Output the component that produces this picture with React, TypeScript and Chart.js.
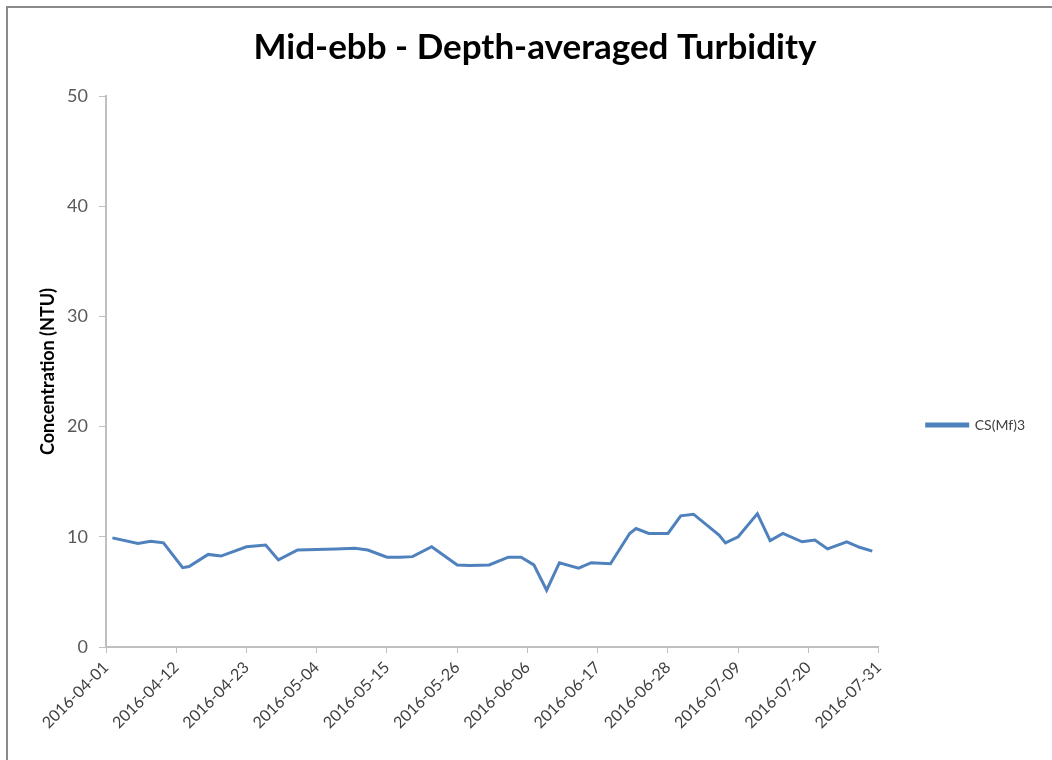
import React, { useEffect, useRef } from "react";
import { Chart, registerables } from "chart.js";

Chart.register(...registerables);

const START_DATE = "2016-04-01";

const SAMPLE_DATES = [
  "2016-04-02", "2016-04-06", "2016-04-08", "2016-04-10", "2016-04-13", "2016-04-14",
  "2016-04-17", "2016-04-19", "2016-04-23", "2016-04-26", "2016-04-28", "2016-05-01",
  "2016-05-04", "2016-05-07", "2016-05-10", "2016-05-12", "2016-05-15", "2016-05-17",
  "2016-05-19", "2016-05-22", "2016-05-26", "2016-05-28", "2016-05-31", "2016-06-03",
  "2016-06-05", "2016-06-07", "2016-06-09", "2016-06-11", "2016-06-14", "2016-06-16",
  "2016-06-19", "2016-06-22", "2016-06-23", "2016-06-25", "2016-06-28", "2016-06-30",
  "2016-07-02", "2016-07-06", "2016-07-07", "2016-07-09", "2016-07-12", "2016-07-14",
  "2016-07-16", "2016-07-19", "2016-07-21", "2016-07-23", "2016-07-26", "2016-07-28",
  "2016-07-30",
];

const TURBIDITY = [
  9.9, 9.4, 9.6, 9.45, 7.2, 7.3,
  8.4, 8.25, 9.1, 9.25, 7.9, 8.8,
  8.85, 8.9, 8.95, 8.8, 8.15, 8.15,
  8.2, 9.1, 7.45, 7.4, 7.45, 8.15,
  8.15, 7.45, 5.15, 7.65, 7.15, 7.65,
  7.55, 10.3, 10.75, 10.3, 10.3, 11.9,
  12.05, 10.15, 9.45, 10.0, 12.1, 9.65,
  10.3, 9.55, 9.7, 8.9, 9.55, 9.05,
  8.7,
];

const X_TICK_LABELS = [
  "2016-04-01", "2016-04-12", "2016-04-23", "2016-05-04", "2016-05-15", "2016-05-26",
  "2016-06-06", "2016-06-17", "2016-06-28", "2016-07-09", "2016-07-20", "2016-07-31",
];

const Y_TICKS = [0, 10, 20, 30, 40, 50];

const SERIES_NAME = "CS(Mf)3";
const TITLE = "Mid-ebb - Depth-averaged Turbidity";
const Y_TITLE = "Concentration (NTU)";

const dayOffset = (d: string) =>
  Math.round((Date.parse(d + "T00:00:00Z") - Date.parse(START_DATE + "T00:00:00Z")) / 86400000);

const FONT = "Lato, 'Open Sans', sans-serif";

const legendShift = {
  id: "legendShift",
  afterLayout(chart: any) {
    if (chart.legend) {
      chart.legend.top += 45;
      chart.legend.bottom += 45;
      chart.legend.left -= 4;
      chart.legend.right -= 4;
    }
  },
};

export default function App() {
  const ref = useRef<HTMLCanvasElement | null>(null);

  useEffect(() => {
    document.body.style.margin = "0";
    const canvas = ref.current;
    if (!canvas) return;
    const tickDays = X_TICK_LABELS.map(dayOffset);
    const labelByDay: Record<number, string> = {};
    X_TICK_LABELS.forEach((l, i) => (labelByDay[tickDays[i]] = l));
    const points = SAMPLE_DATES.map((d, i) => ({ x: dayOffset(d), y: TURBIDITY[i] }));

    const chart = new Chart(canvas, {
      type: "line",
      data: {
        datasets: [
          {
            label: SERIES_NAME,
            data: points,
            borderColor: "#4f81bd",
            backgroundColor: "#4f81bd",
            borderWidth: 3,
            pointRadius: 0,
            tension: 0,
          },
        ],
      },
      plugins: [legendShift],
      options: {
        responsive: false,
        animation: false,
        layout: { padding: { left: 31, right: 13, top: 0, bottom: 0 } },
        plugins: {
          title: {
            display: true,
            text: TITLE,
            color: "#000000",
            font: { family: FONT, size: 35, weight: "bold", lineHeight: 1.2 },
            padding: { top: 27, bottom: 27 },
          },
          legend: {
            display: true,
            position: "right",
            align: "center",
            labels: {
              boxWidth: 41,
              boxHeight: 2,
              padding: 52,
              color: "#404040",
              font: { family: FONT, size: 14 },
            },
          },
          tooltip: { enabled: false },
        },
        scales: {
          x: {
            type: "linear",
            min: tickDays[0],
            max: tickDays[tickDays.length - 1],
            afterBuildTicks: (scale: any) => {
              scale.ticks = tickDays.map((v) => ({ value: v }));
            },
            afterFit: (scale: any) => {
              scale.height = 113;
            },
            grid: {
              display: true,
              drawOnChartArea: false,
              drawTicks: true,
              tickLength: 6,
              color: "#bfbfbf",
            },
            border: { display: true, color: "#bfbfbf", width: 2 },
            ticks: {
              autoSkip: false,
              minRotation: 45,
              maxRotation: 45,
              padding: 5,
              color: "#404040",
              font: { family: FONT, size: 16 },
              callback: (v: any) => labelByDay[v] ?? "",
            },
          },
          y: {
            min: 0,
            max: 50,
            afterBuildTicks: (scale: any) => {
              scale.ticks = Y_TICKS.map((v) => ({ value: v }));
            },
            afterFit: (scale: any) => {
              scale.width = 75;
            },
            grid: {
              display: true,
              drawOnChartArea: false,
              drawTicks: true,
              tickLength: 7,
              color: "#bfbfbf",
            },
            border: { display: true, color: "#bfbfbf", width: 2 },
            ticks: {
              padding: 11,
              color: "#595959",
              font: { family: FONT, size: 18 },
            },
            title: {
              display: true,
              text: Y_TITLE,
              color: "#000000",
              font: { family: FONT, size: 18, weight: "bold" },
              padding: { top: 6, bottom: 4 },
            },
          },
        },
      },
    });
    return () => chart.destroy();
  }, []);

  return (
    <div style={{ position: "fixed", left: 0, top: 0, width: 1052, height: 760, background: "#ffffff", overflow: "hidden" }}>
      <canvas ref={ref} width={1052} height={760} style={{ position: "absolute", left: 0, top: 0, width: 1052, height: 760 }} />
      <div
        style={{
          position: "absolute",
          left: 6,
          top: 6,
          width: 1060,
          height: 800,
          borderLeft: "2px solid #8a8a8a",
          borderTop: "2px solid #8a8a8a",
          pointerEvents: "none",
        }}
      />
    </div>
  );
}
